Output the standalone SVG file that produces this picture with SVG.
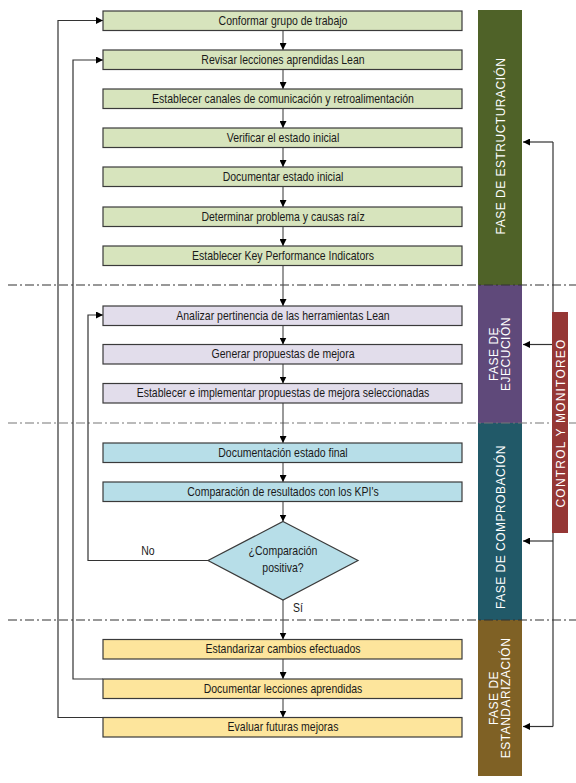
<svg xmlns="http://www.w3.org/2000/svg" width="576" height="783" viewBox="0 0 576 783">
<defs>
<marker id="ah" viewBox="0 0 8 8" refX="8" refY="4" markerWidth="7" markerHeight="7" markerUnits="userSpaceOnUse" orient="auto">
<path d="M0,0 L8,4 L0,8 Z" fill="#000"/>
</marker>
</defs>
<style>
.box{stroke:#3a3a3a;stroke-width:1.2}
.g{fill:#D7E4BD}.p{fill:#E2DDEB}.c{fill:#B7DEE8}.y{fill:#FDE59C}
.t{font-family:"Liberation Sans",Arial,sans-serif;font-size:12.5px;fill:#1a1a1a;text-anchor:middle;transform-box:fill-box;transform-origin:center;transform:scaleX(0.84)}
.ph{font-family:"Liberation Sans",Arial,sans-serif;font-size:12px;fill:#fff;text-anchor:middle;letter-spacing:0.5px}
.flow{stroke:#555;stroke-width:1.2;fill:none}
.loop{stroke:#333;stroke-width:1.2;fill:none}
.dash{stroke:#333;stroke-width:1.2;stroke-dasharray:9,3,2,3;fill:none}
</style>
<!-- phase bars -->
<g id="phase-estructuracion"><rect x="478" y="10" width="44" height="275" fill="#4F6228"/><text class="ph" transform="translate(505,146) rotate(-90)">FASE DE ESTRUCTURACIÓN</text></g>
<g id="phase-ejecucion"><rect x="478" y="285" width="44" height="138" fill="#5F497A"/><text class="ph" transform="translate(497.5,354) rotate(-90)"><tspan x="0" y="0">FASE DE</tspan><tspan x="0" dy="12">EJECUCIÓN</tspan></text></g>
<g id="phase-comprobacion"><rect x="478" y="423" width="44" height="197" fill="#215968"/><text class="ph" transform="translate(505,527) rotate(-90)">FASE DE COMPROBACIÓN</text></g>
<g id="phase-estandarizacion"><rect x="478" y="620" width="44" height="156" fill="#7F6125"/><text class="ph" transform="translate(497.5,698) rotate(-90)"><tspan x="0" y="0">FASE DE</tspan><tspan x="0" dy="12">ESTANDARIZACIÓN</tspan></text></g>
<!-- dashed separators -->
<g id="separators">
<line class="dash" x1="8" y1="285" x2="576" y2="285"/>
<line class="dash" x1="8" y1="423" x2="576" y2="423" style="stroke:#777"/>
<line class="dash" x1="8" y1="620" x2="576" y2="620"/>
</g>
<!-- connectors -->
<g id="connectors">
<line class="flow" x1="283" y1="30.5" x2="283" y2="50" marker-end="url(#ah)"/>
<line class="flow" x1="283" y1="69.5" x2="283" y2="89" marker-end="url(#ah)"/>
<line class="flow" x1="283" y1="108.5" x2="283" y2="128" marker-end="url(#ah)"/>
<line class="flow" x1="283" y1="147.5" x2="283" y2="167" marker-end="url(#ah)"/>
<line class="flow" x1="283" y1="186.5" x2="283" y2="207" marker-end="url(#ah)"/>
<line class="flow" x1="283" y1="226.5" x2="283" y2="246" marker-end="url(#ah)"/>
<line class="flow" x1="283" y1="265.5" x2="283" y2="306" marker-end="url(#ah)"/>
<line class="flow" x1="283" y1="325.5" x2="283" y2="344.5" marker-end="url(#ah)"/>
<line class="flow" x1="283" y1="364" x2="283" y2="383.5" marker-end="url(#ah)"/>
<line class="flow" x1="283" y1="403" x2="283" y2="443" marker-end="url(#ah)"/>
<line class="flow" x1="283" y1="462.5" x2="283" y2="482" marker-end="url(#ah)"/>
<line class="flow" x1="283" y1="501.5" x2="283" y2="521.5" marker-end="url(#ah)"/>
<line class="flow" x1="283" y1="600" x2="283" y2="639.5" marker-end="url(#ah)"/>
<line class="flow" x1="283" y1="659" x2="283" y2="679" marker-end="url(#ah)"/>
<line class="flow" x1="283" y1="698.5" x2="283" y2="717.5" marker-end="url(#ah)"/>
<path class="loop" d="M103,717.5 H58 V20.5 H103" marker-end="url(#ah)"/>
<path class="loop" d="M103,679 H73 V60 H103" marker-end="url(#ah)"/>
<path class="loop" d="M208,560.5 H88 V315 H103" marker-end="url(#ah)"/>
<line class="loop" x1="553" y1="142" x2="553" y2="726.5"/>
<line class="loop" x1="553" y1="142" x2="523" y2="142" marker-end="url(#ah)"/>
<line class="loop" x1="553" y1="344.5" x2="523" y2="344.5" marker-end="url(#ah)"/>
<line class="loop" x1="553" y1="541" x2="523" y2="541" marker-end="url(#ah)"/>
<line class="loop" x1="553" y1="726.5" x2="523" y2="726.5" marker-end="url(#ah)"/>
<text class="t" x="148" y="555">No</text>
<text class="t" x="298" y="612">Sí</text>
</g>
<g id="control-monitoreo"><rect x="552" y="312" width="16" height="221" fill="#953735"/><text class="ph" style="letter-spacing:1.2px" transform="translate(564.5,423) rotate(-90)">CONTROL Y MONITOREO</text></g>
<!-- nodes -->
<g id="n1"><rect class="box g" x="103" y="11" width="359" height="19.5"/><text class="t" x="283" y="25">Conformar grupo de trabajo</text></g>
<g id="n2"><rect class="box g" x="103" y="50" width="359" height="19.5"/><text class="t" x="283" y="64">Revisar lecciones aprendidas Lean</text></g>
<g id="n3"><rect class="box g" x="103" y="89" width="359" height="19.5"/><text class="t" x="283" y="103">Establecer canales de comunicación y retroalimentación</text></g>
<g id="n4"><rect class="box g" x="103" y="128" width="359" height="19.5"/><text class="t" x="283" y="142">Verificar el estado inicial</text></g>
<g id="n5"><rect class="box g" x="103" y="167" width="359" height="19.5"/><text class="t" x="283" y="181">Documentar estado inicial</text></g>
<g id="n6"><rect class="box g" x="103" y="207" width="359" height="19.5"/><text class="t" x="283" y="221">Determinar problema y causas raíz</text></g>
<g id="n7"><rect class="box g" x="103" y="246" width="359" height="19.5"/><text class="t" x="283" y="260">Establecer Key Performance Indicators</text></g>
<g id="n8"><rect class="box p" x="103" y="306" width="359" height="19.5"/><text class="t" x="283" y="320">Analizar pertinencia de las herramientas Lean</text></g>
<g id="n9"><rect class="box p" x="103" y="344.5" width="359" height="19.5"/><text class="t" x="283" y="358.5">Generar propuestas de mejora</text></g>
<g id="n10"><rect class="box p" x="103" y="383.5" width="359" height="19.5"/><text class="t" x="283" y="397.5">Establecer e implementar propuestas de mejora seleccionadas</text></g>
<g id="n11"><rect class="box c" x="103" y="443" width="359" height="19.5"/><text class="t" x="283" y="457">Documentación estado final</text></g>
<g id="n12"><rect class="box c" x="103" y="482" width="359" height="19.5"/><text class="t" x="283" y="496">Comparación de resultados con los KPI's</text></g>
<g id="n13"><path class="box c" d="M283,521.5 L358,560.5 L283,600 L208,560.5 Z"/><text class="t" x="283" y="555">¿Comparación</text><text class="t" x="283" y="572">positiva?</text></g>
<g id="n14"><rect class="box y" x="103" y="639.5" width="359" height="19.5"/><text class="t" x="283" y="653.5">Estandarizar cambios efectuados</text></g>
<g id="n15"><rect class="box y" x="103" y="679" width="359" height="19.5"/><text class="t" x="283" y="693">Documentar lecciones aprendidas</text></g>
<g id="n16"><rect class="box y" x="103" y="717.5" width="359" height="19.5"/><text class="t" x="283" y="731.5">Evaluar futuras mejoras</text></g>
</svg>
